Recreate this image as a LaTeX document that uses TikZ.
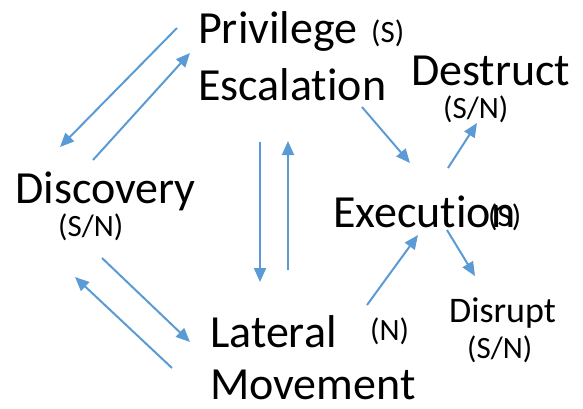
\documentclass[tikz,border=0pt]{standalone}
\usepackage{fontspec}
\setmainfont{Carlito}[Ligatures=NoCommon]
\usetikzlibrary{arrows.meta}
\definecolor{flow}{HTML}{5B9BD5}
\tikzset{
  big/.style={anchor=base west, inner sep=0pt, font=\fontsize{46}{50}\selectfont},
  mid/.style={anchor=base west, inner sep=0pt, font=\fontsize{36}{40}\selectfont},
  tag/.style={anchor=base west, inner sep=0pt, font=\fontsize{31}{34}\selectfont},
  flowarrow/.style={draw=flow, line width=2pt, -{Triangle[length=14pt, width=12pt]}}
}
\begin{document}
\begin{tikzpicture}[x=1pt, y=-1pt]
\useasboundingbox (0,0) rectangle (583,408);

% stage labels
\node[big] (priv)  at (198,43)  {Privilege};
\node[tag] (privt) at (371,42)  {(S)};
\node[big] (esc)   at (198,100) {Escalation};
\node[big] (dest)  at (411,85)  {Destruct};
\node[tag] (destt) at (443,118) {(S/N)};
\node[big] (disc)  at (15,203)  {Discovery};
\node[tag] (disct) at (58,236)  {(S/N)};
\node[big] (exec)  at (333,227) {Execution};
\node[tag] (exect) at (488,226) {(S)};
\node[big] (lat)   at (210,347) {Lateral};
\node[big] (mov)   at (210,399) {Movement};
\node[tag] (latt)  at (370,340) {(N)};
\node[mid] (disr)  at (449,322) {Disrupt};
\node[tag] (disrt) at (467,358) {(S/N)};

% connector end points
\coordinate (a1) at (177,28);  \coordinate (b1) at (60,147);
\coordinate (a2) at (93,160);  \coordinate (b2) at (190,53);
\coordinate (a3) at (260,142); \coordinate (b3) at (260,282);
\coordinate (a4) at (288,270); \coordinate (b4) at (288,141);
\coordinate (a5) at (102,258); \coordinate (b5) at (190,342);
\coordinate (a6) at (172,368); \coordinate (b6) at (75,277);
\coordinate (a7) at (367,305); \coordinate (b7) at (418,235);
\coordinate (a8) at (447,230); \coordinate (b8) at (475,276);
\coordinate (a9) at (362,107); \coordinate (b9) at (410,163);
\coordinate (a10) at (448,168); \coordinate (b10) at (477,123);

\foreach \i in {1,...,10} {
  \draw[flowarrow] (a\i) -- (b\i);
}
\end{tikzpicture}
\end{document}
